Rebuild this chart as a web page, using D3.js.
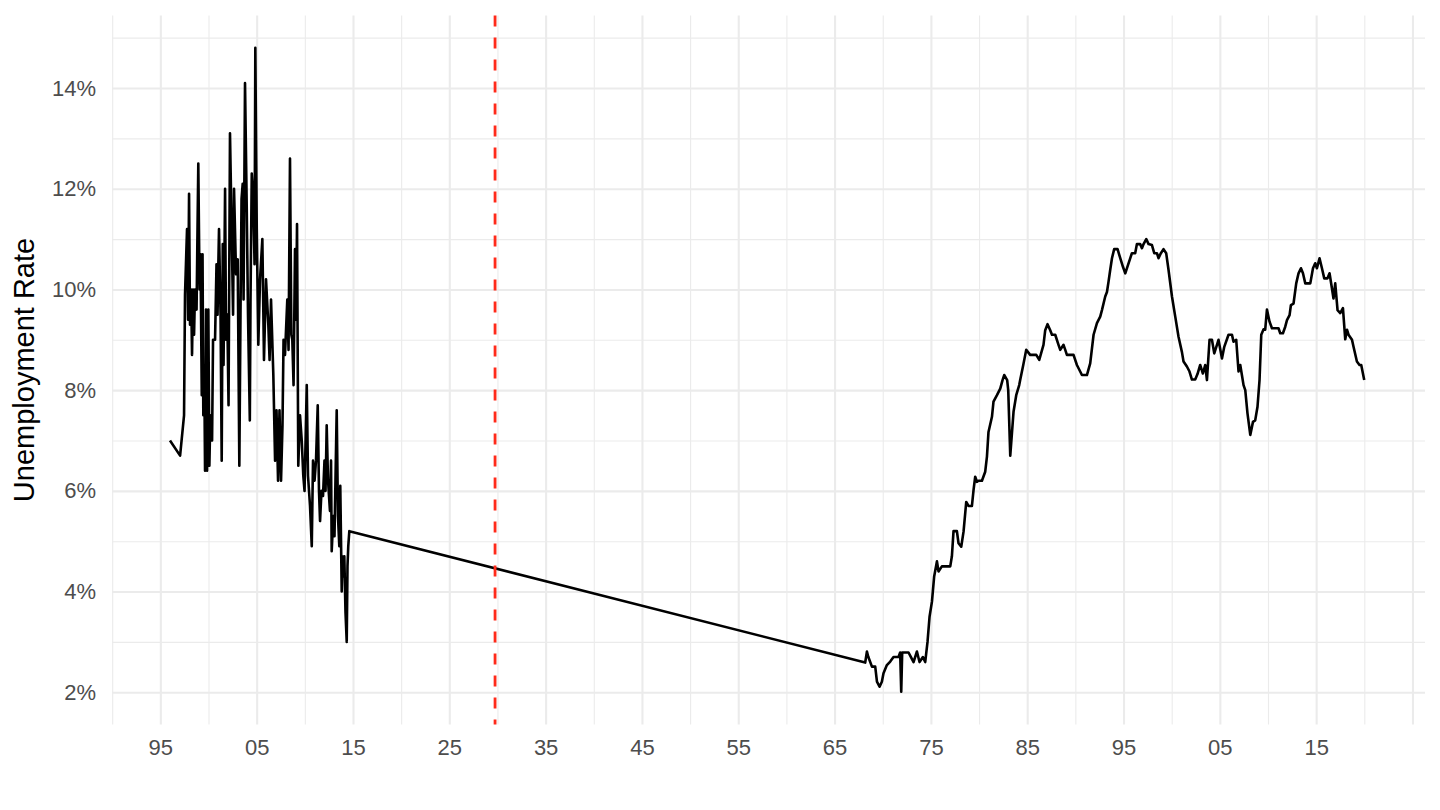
<!DOCTYPE html>
<html><head><meta charset="utf-8">
<script src="https://cdn.jsdelivr.net/npm/d3@7/dist/d3.min.js"></script>
<style>body{margin:0;background:#fff}svg{display:block}</style>
</head><body><svg id="c" width="1440" height="810"></svg>
<script>
// ---- data ----
const earlyYears = [
1896.00,1897.05,1897.46,1897.56,1897.77,1897.88,1897.98,1898.08,1898.19,1898.29,
1898.39,1898.50,1898.60,1898.76,1898.94,1899.07,1899.17,1899.30,1899.38,1899.46,
1899.56,1899.64,1899.74,1899.85,1899.98,1900.09,1900.19,1900.37,1900.47,1900.68,
1900.83,1900.94,1901.02,1901.09,1901.25,1901.37,1901.48,1901.56,1901.72,1901.82,
1901.95,1902.08,1902.23,1902.41,1902.55,1902.65,1902.86,1903.03,1903.20,1903.32,
1903.43,1903.55,1903.64,1903.79,1903.97,1904.10,1904.29,1904.36,1904.49,1904.65,
1904.78,1904.86,1905.01,1905.17,1905.35,1905.59,1905.76,1905.97,1906.21,1906.34,
1906.49,1906.73,1906.91,1907.06,1907.22,1907.37,1907.53,1907.68,1907.79,1907.94,
1908.18,1908.31,1908.46,1908.60,1908.70,1908.83,1908.98,1909.09,1909.19,1909.32,
1909.50,1909.68,1909.84,1909.97,1910.20,1910.33,1910.54,1910.72,1910.85,1911.01,
1911.16,1911.34,1911.47,1911.58,1911.73,1911.89,1912.04,1912.15,1912.27,1912.41,
1912.61,1912.72,1912.79,1912.96,1913.08,1913.31,1913.44,1913.58,1913.68,1913.83,
1913.91,1914.02,1914.10,1914.22,1914.35,1914.43,1914.51,1914.62];
const earlyRates = [
7.0,6.7,7.5,9.9,11.2,9.4,11.9,9.3,10.0,8.7,
10.0,9.1,10.0,9.6,12.5,10.0,10.7,7.9,10.7,7.5,
8.4,6.4,9.6,6.4,9.6,6.5,7.5,7.0,9.0,9.0,
10.5,9.5,10.5,11.2,9.5,6.6,10.9,8.5,12.0,9.0,
9.5,7.7,13.1,11.1,9.5,12.0,10.3,10.6,6.5,9.5,
11.8,12.1,9.8,14.1,11.6,9.5,7.4,9.8,12.3,11.8,
10.5,14.8,11.2,8.9,10.2,11.0,8.6,10.2,9.3,8.6,
9.8,8.3,6.6,7.6,6.2,7.6,6.2,7.3,9.0,8.7,
9.8,8.8,12.6,9.1,9.0,8.1,10.8,9.4,11.3,6.5,
7.5,7.0,6.3,6.0,8.1,6.3,5.7,4.9,6.6,6.2,
6.6,7.7,6.0,5.4,6.0,5.9,6.6,6.0,7.3,6.2,
5.6,6.6,4.8,5.5,5.1,7.6,5.5,4.9,6.1,4.0,
4.7,4.3,4.7,3.6,3.0,4.5,4.9,5.2];
const modernYears = [
1968.18,1968.36,1968.49,1968.88,1969.22,1969.40,1969.67,1969.91,1970.08,1970.43,
1970.78,1971.12,1971.64,1971.81,1971.92,1972.02,1972.68,1972.93,1973.20,1973.55,
1973.82,1974.17,1974.41,1974.65,1974.86,1975.11,1975.34,1975.63,1975.79,1976.14,
1977.01,1977.18,1977.35,1977.70,1977.87,1978.15,1978.39,1978.67,1978.91,1979.26,
1979.43,1979.60,1979.78,1979.94,1980.30,1980.64,1980.82,1980.98,1981.34,1981.50,
1981.86,1982.20,1982.44,1982.61,1982.92,1983.03,1983.24,1983.58,1983.86,1984.17,
1984.27,1984.59,1984.90,1985.31,1985.94,1986.25,1986.69,1986.87,1987.11,1987.39,
1987.57,1987.91,1988.25,1988.43,1988.77,1988.95,1989.12,1989.81,1990.16,1990.50,
1990.68,1991.20,1991.54,1991.89,1992.24,1992.58,1992.76,1993.10,1993.28,1993.44,
1993.62,1993.80,1994.03,1994.38,1994.66,1994.94,1995.18,1995.35,1995.70,1995.87,
1996.21,1996.39,1996.73,1996.91,1997.08,1997.36,1997.60,1997.95,1998.19,1998.47,
1998.63,1998.88,1999.15,1999.43,1999.67,2000.03,2000.37,2000.71,2001.06,2001.23,
2001.58,2001.85,2002.10,2002.44,2002.68,2002.96,2003.24,2003.48,2003.66,2003.93,
2004.18,2004.42,2004.70,2004.86,2005.22,2005.46,2005.90,2006.26,2006.42,2006.70,
2006.94,2007.12,2007.29,2007.46,2007.64,2007.87,2008.16,2008.44,2008.67,2008.91,
2009.12,2009.30,2009.54,2009.71,2009.89,2010.16,2010.41,2010.75,2011.09,2011.27,
2011.55,2011.79,2011.97,2012.24,2012.38,2012.65,2012.93,2013.17,2013.42,2013.63,
2013.87,2014.39,2014.67,2014.90,2015.08,2015.35,2015.60,2015.84,2016.18,2016.39,
2016.64,2016.80,2016.98,2017.22,2017.50,2017.78,2018.02,2018.20,2018.36,2018.72,
2018.88,2019.23,2019.50,2019.68,2019.99];
const modernRates = [
2.59,2.81,2.71,2.51,2.51,2.21,2.11,2.21,2.38,2.54,
2.61,2.70,2.70,2.79,2.01,2.79,2.79,2.70,2.60,2.81,
2.60,2.70,2.60,3.00,3.50,3.80,4.30,4.60,4.40,4.50,
4.50,4.70,5.20,5.20,4.96,4.89,5.19,5.78,5.70,5.70,
6.02,6.28,6.18,6.20,6.20,6.38,6.68,7.17,7.47,7.77,
7.90,8.03,8.20,8.30,8.20,8.00,6.70,7.57,7.90,8.10,
8.20,8.50,8.80,8.70,8.70,8.60,8.90,9.19,9.31,9.19,
9.10,9.10,8.90,8.80,8.90,8.80,8.70,8.70,8.50,8.37,
8.30,8.30,8.53,9.10,9.33,9.46,9.59,9.86,9.95,10.15,
10.39,10.62,10.80,10.80,10.62,10.45,10.32,10.42,10.62,10.72,
10.72,10.90,10.90,10.82,10.90,11.00,10.90,10.88,10.72,10.72,
10.62,10.72,10.80,10.72,10.39,9.86,9.46,9.06,8.76,8.57,
8.47,8.37,8.21,8.21,8.32,8.50,8.33,8.50,8.20,9.00,
9.00,8.73,8.90,9.00,8.63,8.86,9.10,9.10,8.96,9.00,
8.37,8.50,8.30,8.10,8.00,7.54,7.11,7.37,7.40,7.67,
8.20,9.10,9.21,9.20,9.60,9.36,9.23,9.23,9.23,9.13,
9.13,9.26,9.39,9.49,9.69,9.72,10.12,10.32,10.42,10.32,
10.12,10.12,10.42,10.52,10.42,10.62,10.42,10.22,10.22,10.32,
10.02,9.82,10.12,9.59,9.53,9.63,9.01,9.20,9.10,9.00,
8.86,8.57,8.50,8.50,8.20];
const xMajorBreaks = [1895,1905,1915,1925,1935,1945,1955,1965,1975,1985,1995,2005,2015,2025];
const xTickLabels  = ["95","05","15","25","35","45","55","65","75","85","95","05","15",""];
const xMinorBreaks = [1890,1900,1910,1920,1930,1940,1950,1960,1970,1980,1990,2000,2010,2020];
const yMajorBreaks = [2,4,6,8,10,12,14];
const yTickLabels  = ["2%","4%","6%","8%","10%","12%","14%"];
const yMinorBreaks = [3,5,7,9,11,13,15];
const crashYear = 1929.75;
const yTitle = "Unemployment Rate";

// ---- layout ----
const L = 112, R = 1425, T = 15.5, B = 724.5;
const svg = d3.select("#c");
const x = d3.scaleLinear().domain([1889.98, 2026.3]).range([L, R]);
const y = d3.scaleLinear().domain([1.36, 15.44]).range([B, T]);
const grid = "#EBEBEB";
const font = "'Liberation Sans', Arial, Helvetica, sans-serif";

// minor grid
svg.append("g").attr("transform",`translate(0,${B})`)
  .call(d3.axisBottom(x).tickValues(xMinorBreaks).tickSize(-(B-T)).tickFormat(""))
  .call(g=>{g.select(".domain").remove(); g.selectAll("line").attr("stroke",grid).attr("stroke-width",1.1);});
svg.append("g").attr("transform",`translate(${L},0)`)
  .call(d3.axisLeft(y).tickValues(yMinorBreaks).tickSize(-(R-L)).tickFormat(""))
  .call(g=>{g.select(".domain").remove(); g.selectAll("line").attr("stroke",grid).attr("stroke-width",1.1);});
// major grid
svg.append("g").attr("transform",`translate(0,${B})`)
  .call(d3.axisBottom(x).tickValues(xMajorBreaks).tickSize(-(B-T)).tickFormat(""))
  .call(g=>{g.select(".domain").remove(); g.selectAll("line").attr("stroke",grid).attr("stroke-width",2.1);});
svg.append("g").attr("transform",`translate(${L},0)`)
  .call(d3.axisLeft(y).tickValues(yMajorBreaks).tickSize(-(R-L)).tickFormat(""))
  .call(g=>{g.select(".domain").remove(); g.selectAll("line").attr("stroke",grid).attr("stroke-width",2.1);});

// tick labels
svg.append("g").attr("transform",`translate(0,${B})`)
  .call(d3.axisBottom(x).tickValues(xMajorBreaks).tickSize(0).tickPadding(14.5).tickFormat((d,i)=>xTickLabels[i]))
  .call(g=>{g.select(".domain").remove(); g.selectAll("text").attr("fill","#4D4D4D").style("font-family",font).style("font-size","22px");});
svg.append("g").attr("transform",`translate(${L},0)`)
  .call(d3.axisLeft(y).tickValues(yMajorBreaks).tickSize(0).tickPadding(16).tickFormat((d,i)=>yTickLabels[i]))
  .call(g=>{g.select(".domain").remove(); g.selectAll("text").attr("fill","#4D4D4D").style("font-family",font).style("font-size","22px");});

// axis title
svg.append("text").attr("transform",`translate(34,${(T+B)/2}) rotate(-90)`)
  .attr("text-anchor","middle").style("font-family",font).style("font-size","29px")
  .attr("fill","#000").text(yTitle);

// data line
const data = earlyYears.map((d,i)=>({yr:d, v:earlyRates[i]}))
  .concat(modernYears.map((d,i)=>({yr:d, v:modernRates[i]})));
const line = d3.line().x(d=>x(d.yr)).y(d=>y(d.v));
svg.append("path").datum(data).attr("d",line).attr("fill","none")
  .attr("stroke","#000").attr("stroke-width",2.6).attr("stroke-linejoin","round");

// crash line
svg.append("line").attr("x1",x(crashYear)).attr("x2",x(crashYear)).attr("y1",T).attr("y2",B)
  .attr("stroke","#FF2A1A").attr("stroke-width",2.8).attr("stroke-dasharray","11,11");
</script></body></html>
